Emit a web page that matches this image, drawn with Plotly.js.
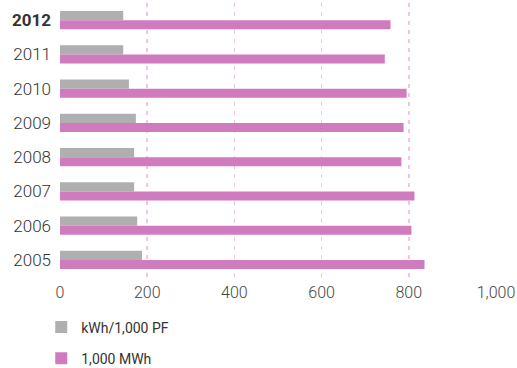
<!DOCTYPE html>
<html>
<head>
<meta charset="utf-8">
<script src="https://cdn.plot.ly/plotly-3.0.1.min.js"></script>
<style>html,body{margin:0;padding:0;background:#fff;}#chart{width:517px;height:368px;}</style>
</head>
<body>
<div id="chart"></div>
<script>
const years = ['2012', '2011', '2010', '2009', '2008', '2007', '2006', '2005'];
const yearLabels = ['<b>2012</b>', '2011', '2010', '2009', '2008', '2007', '2006', '2005'];
const kwhPerPF = [145, 145, 158, 174, 170, 170, 177, 188];
const mwh = [758, 745, 795, 788, 783, 813, 806, 836];
const xTicks = [0, 200, 400, 600, 800, 1000];
const xTickLabels = ['0', '200', '400', '600', '800', '1,000'];

const FONT = 'Roboto, "Liberation Sans", sans-serif';

const data = [
  {type: 'bar', orientation: 'h', name: 'kWh/1,000 PF', y: years, x: kwhPerPF,
   marker: {color: '#afafaf'}, legendgroup: 'a', hoverinfo: 'x+y'},
  {type: 'bar', orientation: 'h', name: '1,000 MWh', y: years, x: mwh,
   marker: {color: '#d17bbf'}, legendgroup: 'b', hoverinfo: 'x+y'}
];

const layout = {
  width: 517, height: 368,
  margin: {l: 60, r: 21, t: 3, b: 91, autoexpand: false},
  paper_bgcolor: '#fff', plot_bgcolor: '#fff',
  font: {family: FONT, color: '#333', size: 16},
  barmode: 'group', bargap: 0.474, bargroupgap: 0,
  xaxis: {range: [0, 1000], tickvals: xTicks, ticktext: xTickLabels,
          showgrid: true, gridcolor: '#f0c6e6', gridwidth: 1.5, griddash: '4px,5px',
          zeroline: false, showline: false, ticks: '', automargin: false, ticklabelstandoff: 4,
          tickfont: {family: FONT, size: 16, color: '#444', weight: 300}},
  yaxis: {type: 'category', autorange: 'reversed', tickvals: years, ticktext: yearLabels,
          showgrid: false, zeroline: false, showline: false, ticks: '', ticklabelstandoff: 8,
          automargin: false, tickfont: {family: FONT, size: 17, color: '#333', weight: 300}},
  showlegend: true,
  legend: {orientation: 'v', x: -0.043, xanchor: 'left', y: -0.126, yanchor: 'top',
           traceorder: 'grouped', tracegroupgap: 10, font: {family: FONT, size: 14, color: '#333'},
           bgcolor: 'rgba(0,0,0,0)'}
};

Plotly.newPlot('chart', data, layout, {displayModeBar: false, staticPlot: true});
</script>
</body>
</html>
